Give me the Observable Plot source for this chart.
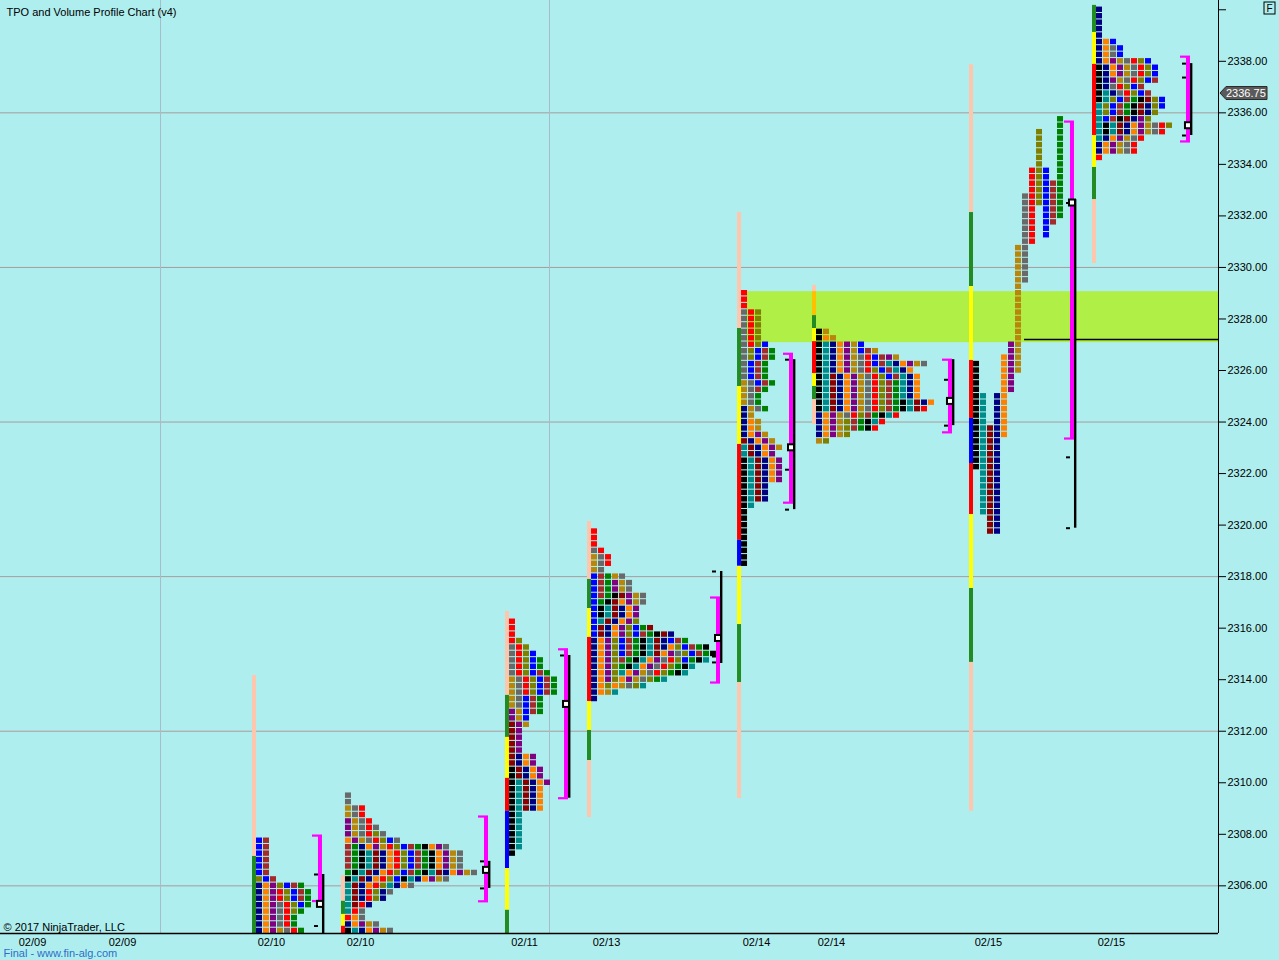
<!DOCTYPE html>
<html><head><meta charset="utf-8">
<script src="https://cdn.jsdelivr.net/npm/d3@7"></script>
<script src="https://cdn.jsdelivr.net/npm/@observablehq/plot@0.6"></script>
<style>
html,body{margin:0;padding:0;background:#AFEEEE;}
#chart{width:1279px;height:960px;overflow:hidden;}
svg{display:block;}
</style></head><body><div id="chart"></div>
<script>
// ---------- colours ----------
const TPO_COLORS = ["#000000","#008B8B","#8B0000","#000080","#FF8000","#800080","#B8860B","#696969","#FF0000","#808000","#0000FF","#A52A2A","#008000"];
const BAR_COLORS = {P:"#FFC6AE", G:"#228B22", Y:"#FFFF00", R:"#FF0000", B:"#0000FF", O:"#FFC000"};

// ---------- sessions ----------
const sessionNames  = ["02/10 a","02/10 b","02/11","02/13","02/14 a","02/14 b","02/15 a","02/15 b"];
const sessionStart  = [36.0, 48.71, 72.14, 83.86, 105.29, 116.0, 138.43, 156.0];   // time slot of each session
const colorStart    = [3, 11, 0, 10, 0, 0, 0, 0];
const splitColumns  = [false, false, false, false, false, false, true, false];

// TPO periods [low, high, (colour index)] in time order
const periods0210a = [[2303.5,2306.0],[2303.5,2306.0],[2303.5,2306.0],[2303.5,2304.25],[2303.5,2305.25],[2303.5,2305.75],[2305.0,2306.25],[2305.25,2307.75],[2305.5,2307.75],[2303.5,2306.0]];
const periods0210b = [[2306.75,2307.5],[2306.5,2307.5],[2306.25,2307.25],[2305.0,2307.25],[2305.25,2307.25],[2305.5,2307.5],[2306.0,2307.75],[2307.5,2308.5],[2307.5,2309.0],[2307.75,2309.5],[2304.75,2309.0],[2305.5,2308.0],[2306.25,2307.75],[2306.5,2307.5],[2306.5,2307.5],[2306.25,2307.5],[2306.0,2306.5],[2306.5,2306.5],[2305.25,2306.5],[2306.0,2307.5],[2306.25,2307.5],[2306.25,2307.25],[2305.75,2308.25],
  [2303.5,2304.25,0],[2303.5,2304.25,1],[2303.5,2304.5,3],[2303.5,2304.75,4],[2303.5,2304.5,5],[2303.5,2304.5,6],[2303.5,2305.0,7]];
const periods0211  = [[2307.25,2310.5],[2307.5,2310.0],[2309.0,2312.25],[2309.0,2311.0],[2309.0,2311.0],[2310.0,2312.75],[2312.25,2314.0],[2313.0,2315.25],[2313.5,2316.25],[2313.5,2315.5],[2312.5,2315.0],[2312.75,2314.25],[2312.75,2314.75]];
const periods0213  = [[2315.75,2318.0],[2317.25,2318.0],[2317.0,2318.0],[2316.5,2317.25],[2316.25,2316.75],[2315.75,2317.25],[2313.25,2316.75],[2313.75,2317.0],[2314.0,2317.75],[2317.0,2318.75],[2317.0,2319.0],[2318.5,2319.75],[2313.75,2316.25],[2315.0,2316.0],[2314.75,2315.75],[2314.5,2316.0],[2314.5,2315.75],[2314.25,2315.5],[2315.0,2316.0],[2315.25,2315.75],[2313.5,2315.25],[2314.0,2315.0],[2313.5,2314.25],[2313.75,2315.0],[2314.25,2314.75],[2313.75,2315.25],[2314.75,2315.5],[2315.0,2315.5],[2314.0,2315.5],[2314.25,2315.25],[2313.5,2314.75]];
const periods0214a = [[2318.5,2322.5],[2320.75,2323.0],[2321.0,2323.25],[2321.0,2324.5],[2321.75,2324.0],[2321.75,2323.5],[2323.0,2325.5],[2324.5,2328.25],[2327.0,2329.0],[2326.5,2328.25],[2325.5,2327.0],[2325.25,2326.75],[2324.5,2326.75]];
const periods0214b = [[2324.5,2327.5],[2324.5,2327.0],[2324.5,2325.75],[2323.5,2327.0],[2323.5,2327.25],[2323.5,2327.0],[2323.25,2327.5],[2324.25,2326.5],[2324.25,2326.5],[2323.25,2326.0],[2325.75,2327.0],[2323.75,2326.75],[2323.75,2325.5],[2323.75,2324.75],[2324.0,2326.25],[2324.5,2324.75],[2324.75,2326.25],[2324.75,2326.25],[2326.25,2326.5],[2326.25,2326.75],[2326.25,2326.25],[2323.75,2324.5]];
const periods0215a = [[2322.25,2326.25],[2320.5,2325.0],[2319.75,2323.75],[2319.75,2325.0],[2323.5,2326.5],[2325.25,2327.0],[2326.0,2330.75],[2329.5,2332.75],[2331.0,2333.75],[2332.5,2335.25],[2331.25,2333.75],[2331.75,2333.25],[2332.0,2335.75]];
const periods0215b = [[2336.5,2337.75],[2335.25,2336.75],null,[2336.75,2340.0],[2337.5,2338.75],[2337.25,2338.0],[2337.25,2338.0],[2336.75,2338.5],[2336.75,2338.0],[2336.0,2338.0],[2335.75,2338.75],[2335.75,2337.25],[2336.0,2336.5],[2335.25,2336.5],[2335.0,2335.5],[2335.25,2336.5],[2334.5,2336.25],[2334.5,2335.5],[2334.5,2335.75],[2334.5,2335.5],[2334.5,2335.5],[2334.25,2335.5],[2335.5,2336.5],[2336.25,2336.5]];
const sessionPeriods = [periods0210a, periods0210b, periods0211, periods0213, periods0214a, periods0214b, periods0215a, periods0215b];

// range bars at the left of each profile [low, high, colour key]
const bars0210a = [[2307.14,2314.16,"P"],[2303.0,2307.14,"G"]];
const bars0210b = [[2305.4,2306.4,"P"],[2304.89,2305.4,"G"],[2304.43,2304.89,"Y"],[2303.0,2304.43,"R"]];
const bars0211  = [[2313.39,2316.65,"P"],[2311.76,2313.39,"G"],[2310.17,2311.76,"Y"],[2308.89,2310.17,"R"],[2306.67,2308.89,"B"],[2305.05,2306.67,"Y"],[2303.0,2305.05,"G"]];
const bars0213  = [[2317.89,2320.14,"P"],[2316.76,2317.89,"G"],[2315.64,2316.76,"Y"],[2313.15,2315.64,"R"],[2312.03,2313.15,"Y"],[2310.86,2312.03,"G"],[2308.65,2310.86,"P"]];
const bars0214a = [[2327.63,2332.14,"P"],[2325.38,2327.63,"G"],[2323.13,2325.38,"Y"],[2319.41,2323.13,"R"],[2318.4,2319.41,"B"],[2316.14,2318.4,"Y"],[2313.89,2316.14,"G"],[2309.39,2313.89,"P"]];
const bars0214b = [[2329.06,2329.3,"P"],[2328.13,2329.06,"O"],[2327.63,2328.13,"G"],[2327.12,2327.63,"Y"],[2325.88,2327.12,"R"],[2325.38,2325.88,"Y"],[2324.87,2325.38,"G"],[2323.9,2324.87,"P"]];
const bars0215a = [[2332.13,2337.87,"P"],[2329.26,2332.13,"G"],[2326.39,2329.26,"Y"],[2324.14,2326.39,"R"],[2322.39,2324.14,"B"],[2320.41,2322.39,"R"],[2317.54,2320.41,"Y"],[2314.67,2317.54,"G"],[2308.89,2314.67,"P"]];
const bars0215b = [[2339.12,2340.17,"G"],[2337.88,2339.12,"Y"],[2335.12,2337.88,"R"],[2333.88,2335.12,"Y"],[2332.63,2333.88,"G"],[2330.15,2332.63,"P"]];
const sessionBars = [bars0210a, bars0210b, bars0211, bars0213, bars0214a, bars0214b, bars0215a, bars0215b];

// value area / range brackets
const bracketX   = [45.71, 69.43, 80.86, 102.57, 113.0, 135.71, 153.14, 169.71];
const vaHigh     = [2307.95, 2308.69, 2315.18, 2317.19, 2326.65, 2326.42, 2335.66, 2338.18];
const vaLow      = [2305.41, 2305.4, 2309.4, 2313.89, 2320.87, 2323.6, 2323.36, 2334.89];
const blackHigh  = [2306.44, 2306.95, 2314.94, 2318.2, 2326.42, 2326.42, 2332.63, 2337.91];
const blackLow   = [2303.0, 2305.9, 2309.4, 2314.63, 2320.6, 2323.86, 2319.88, 2335.12];
const blackTicks = [[2306.44,2304.44],[2306.95,2305.9],[2314.94],[2318.2,2314.9,2314.67],[2326.42,2322.15,2320.6],[2325.64,2323.86],[2332.5,2322.63,2319.88],[2337.91,2337.37,2335.12]];
const pocPrice   = [2305.28, 2306.6, 2313.04, 2315.6, 2323.0, 2324.8, 2332.5, 2335.5];

// axes / grid / annotations
const yTicks = [2306,2308,2310,2312,2314,2316,2318,2320,2322,2324,2326,2328,2330,2332,2334,2336,2338,2340];
const gridPrices = [2306, 2312, 2318, 2324, 2330, 2336];
const sessionDividers = [22.86, 78.43];
const dateLabels = ["02/09","02/09","02/10","02/10","02/11","02/13","02/14","02/14","02/15","02/15"];
const dateLabelX = [4.57, 17.43, 38.71, 51.43, 74.86, 86.57, 108.0, 118.71, 141.14, 158.71];
const gapZone = [2327.08, 2329.06];
const gapStartX = 106.71;
const nakedPoc = 2327.2;
const nakedPocStart = 146.29;
const lastPrice = 2336.75;
const X_MAX = 174;
const Y_DOMAIN = [2304.15, 2340.36];

// ---------- build TPO cells ----------
const TICK = 0.25, BAR_W = 4/7, BOX_W = 6/7, BOX_HALF = 0.105;
const cells = [];
sessionPeriods.forEach((per, s) => {
  const valid = per.filter(r => r);
  const lo = d3.min(valid, r => r[0]), hi = d3.max(valid, r => r[1]);
  const n = Math.round((hi - lo) / TICK);
  for (let k = 0; k <= n; k++) {
    const p = lo + k * TICK;
    let col = 0;
    per.forEach((r, i) => {
      if (!r) return;
      const covers = p >= r[0] - 1e-9 && p <= r[1] + 1e-9;
      const c = r.length > 2 ? r[2] : (colorStart[s] + i) % 13;
      if (splitColumns[s]) { if (covers) cells.push({s, p, col: i, c}); }
      else if (covers) { cells.push({s, p, col, c}); col++; }
    });
  }
});
const barSegs = sessionBars.flatMap((b, s) => b.map(r => ({s, lo: r[0], hi: r[1], c: BAR_COLORS[r[2]]})));
const idx = d3.range(sessionNames.length);
const serifs = idx.flatMap(i => [{i, y: vaHigh[i]}, {i, y: vaLow[i]}]);
const ticks = idx.flatMap(i => blackTicks[i].map(y => ({i, y})));
const PX = 1 / 25.77; // price per pixel (for marker size)

const chart = Plot.plot({
  width: 1279, height: 960,
  marginLeft: 0, marginRight: 61, marginTop: 0, marginBottom: 27,
  x: {domain: [0, X_MAX], axis: null},
  y: {domain: Y_DOMAIN, axis: null},
  style: {background: "#AFEEEE", fontFamily: "'Liberation Sans', Arial, sans-serif", fontSize: "11px", color: "black"},
  marks: [
    Plot.ruleY(gridPrices, {stroke: "#A89C9C", strokeWidth: 1}),
    Plot.ruleX(sessionDividers, {stroke: "#A7BCCB", strokeWidth: 1}),
    Plot.rect([gapZone], {x1: () => gapStartX, x2: () => X_MAX, y1: d => d[0], y2: d => d[1], fill: "#AFEF46"}),
    Plot.ruleY([nakedPoc], {x1: () => nakedPocStart, x2: () => X_MAX, stroke: "black", strokeWidth: 1.5}),
    Plot.rect(barSegs, {x1: d => sessionStart[d.s], x2: d => sessionStart[d.s] + BAR_W, y1: d => d.lo, y2: d => d.hi, fill: d => d.c, clip: true}),
    Plot.rect(cells, {x1: d => sessionStart[d.s] + BAR_W + d.col, x2: d => sessionStart[d.s] + BAR_W + d.col + BOX_W,
      y1: d => d.p - BOX_HALF, y2: d => d.p + BOX_HALF, fill: d => TPO_COLORS[d.c], clip: true}),
    // value-area brackets
    Plot.rect(idx, {x1: i => bracketX[i] - 2/7, x2: i => bracketX[i] + 2/7, y1: i => vaLow[i], y2: i => vaHigh[i], fill: "#FF00FF", clip: true}),
    Plot.ruleY(serifs, {y: d => d.y, x1: d => bracketX[d.i] - 8/7, x2: d => bracketX[d.i] + 2/7, stroke: "#FF00FF", strokeWidth: 2.2, clip: true}),
    Plot.rect(idx, {x1: i => bracketX[i] + 2/7, x2: i => bracketX[i] + 4.4/7, y1: i => blackLow[i], y2: i => blackHigh[i], fill: "black", clip: true}),
    Plot.ruleY(ticks, {y: d => d.y, x1: d => bracketX[d.i] - 6/7, x2: d => bracketX[d.i] - 2/7, stroke: "black", strokeWidth: 2, clip: true}),
    Plot.rect(idx, {x1: i => bracketX[i] - 3/7, x2: i => bracketX[i] + 3/7, y1: i => pocPrice[i] - 3 * PX, y2: i => pocPrice[i] + 3 * PX,
      fill: "white", stroke: "black", strokeWidth: 2, clip: true}),
    // axes
    Plot.ruleX([X_MAX], {stroke: "black", strokeWidth: 1}),
    Plot.ruleY([Y_DOMAIN[0]], {stroke: "black", strokeWidth: 1.5}),
    Plot.axisY({anchor: "right", ticks: yTicks, tickFormat: d => d >= 2340 ? "" : d.toFixed(2), tickSize: 7, tickPadding: 2, label: null, fontSize: 11}),
    Plot.text(dateLabels, {x: (d, i) => dateLabelX[i], text: d => d, frameAnchor: "bottom", lineAnchor: "middle", dy: 9, fontSize: 11, fill: "black"}),
    Plot.text(["TPO and Volume Profile Chart (v4)"], {frameAnchor: "top-left", lineAnchor: "middle", textAnchor: "start", dx: 6, dy: 12, fontSize: 11, fill: "black"}),
    Plot.text(["© 2017 NinjaTrader, LLC"], {frameAnchor: "bottom-left", lineAnchor: "middle", textAnchor: "start", dx: 3, dy: -6, fontSize: 11, fill: "black"}),
    Plot.text(["Final - www.fin-alg.com"], {frameAnchor: "bottom-left", lineAnchor: "middle", textAnchor: "start", dx: 3, dy: 20, fontSize: 11, fill: "#2D6FC8"})
  ]
});
document.getElementById("chart").appendChild(chart);

// last-price tag and the small "F" box
const svg = d3.select(chart);
const ty = chart.scale("y").apply(lastPrice);
const tx = chart.scale("x").apply(X_MAX);
svg.append("path")
  .attr("d", `M${tx + 2},${ty} L${tx + 8},${ty - 6.5} L${tx + 49},${ty - 6.5} L${tx + 49},${ty + 6.5} L${tx + 8},${ty + 6.5} Z`)
  .attr("fill", "#5A5A5A").attr("stroke", "#2A2A2A");
svg.append("text").attr("x", tx + 8).attr("y", ty).attr("dy", "0.36em").attr("text-anchor", "start")
  .attr("fill", "white").attr("font-size", 11).text(lastPrice.toFixed(2));
svg.append("rect").attr("x", tx + 46).attr("y", 2).attr("width", 11).attr("height", 12)
  .attr("fill", "none").attr("stroke", "black");
svg.append("text").attr("x", tx + 51.5).attr("y", 8).attr("dy", "0.36em").attr("text-anchor", "middle")
  .attr("font-size", 10).attr("fill", "black").text("F");
</script></body></html>
